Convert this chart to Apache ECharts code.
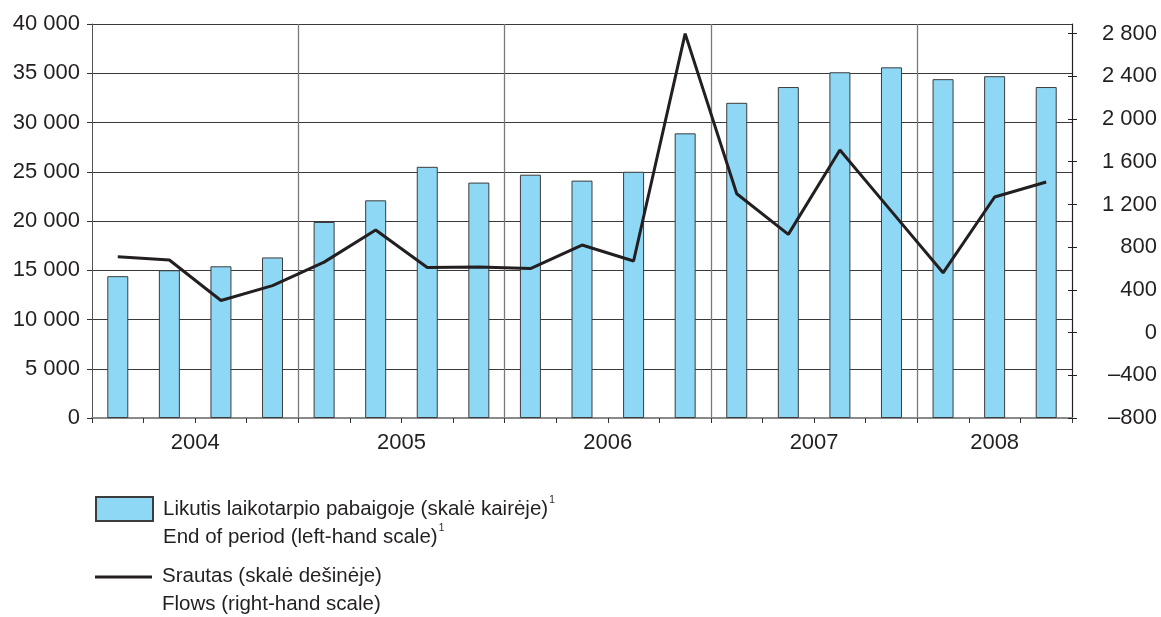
<!DOCTYPE html>
<html>
<head>
<meta charset="utf-8">
<script src="https://cdn.jsdelivr.net/npm/echarts@6/dist/echarts.min.js"></script>
<style>
  html, body { margin: 0; padding: 0; background: #ffffff; }
  #chart { width: 1161px; height: 617px; }
</style>
</head>
<body>
<div id="chart"></div>
<script>
// ketvirčiai 2004 Q1 - 2008 Q3
const years = ['2004', '2005', '2006', '2007', '2008'];
const quartersPerYear = [4, 4, 4, 4, 3];
const quarters = [
  '2004 Q1', '2004 Q2', '2004 Q3', '2004 Q4',
  '2005 Q1', '2005 Q2', '2005 Q3', '2005 Q4',
  '2006 Q1', '2006 Q2', '2006 Q3', '2006 Q4',
  '2007 Q1', '2007 Q2', '2007 Q3', '2007 Q4',
  '2008 Q1', '2008 Q2', '2008 Q3'
];
// likutis laikotarpio pabaigoje (kairė skalė)
const endOfPeriod = [
  14400, 15000, 15400, 16300,
  19900, 22100, 25500, 23900,
  24700, 24100, 25000, 28900,
  32000, 33600, 35100, 35600,
  34400, 34700, 33600
];
// srautas (dešinė skalė)
const flows = [
  710, 680, 300, 440,
  660, 960, 610, 615,
  600, 820, 670, 2800,
  1300, 920, 1710, 1135,
  560, 1270, 1410
];
const leftTicks = [0, 5000, 10000, 15000, 20000, 25000, 30000, 35000, 40000];
const rightTicks = [-800, -400, 0, 400, 800, 1200, 1600, 2000, 2400, 2800];

const barName = 'Likutis laikotarpio pabaigoje (skalė kairėje)';
const lineName = 'Srautas (skalė dešinėje)';
const legendText = {};
legendText[barName] = '{t|Likutis laikotarpio pabaigoje (skalė kairėje)}{s|1}\n{t|End of period (left-hand scale)}{s|1}';
legendText[lineName] = '{t|Srautas (skalė dešinėje)}\n{t|Flows (right-hand scale)}';

// metų ribos ir centrai
const yearBounds = [];
const yearCenters = [];
let acc = 0;
quartersPerYear.forEach((n, i) => {
  yearCenters.push(acc + n / 2);
  acc += n;
  if (i < quartersPerYear.length - 1) yearBounds.push(acc);
});

const FONT = '"Liberation Sans", Arial, sans-serif';
const TXT = '#231f20';

const fmt = v => {
  const s = Math.abs(v).toString().replace(/\B(?=(\d{3})+(?!\d))/g, ' ');
  return (v < 0 ? '–' : '') + s;
};

const legendRich = {
  t: { fontFamily: FONT, fontSize: 20.5, color: TXT, lineHeight: 28 },
  s: { fontFamily: FONT, fontSize: 10, color: TXT, verticalAlign: 'top', lineHeight: 28, padding: [0, 0, 12, 1] }
};

const myChart = echarts.init(document.getElementById('chart'));
const option = {
  animation: false,
  textStyle: { fontFamily: FONT, color: TXT },
  grid: { left: 92, right: 89, top: 24, bottom: 199, containLabel: false },
  legend: [
    {
      data: [{ name: barName, icon: 'rect' }],
      left: 95, top: 495, padding: 0,
      itemWidth: 57, itemHeight: 24,
      formatter: name => legendText[name],
      textStyle: { padding: [28, 0, 0, 5], rich: legendRich }
    },
    {
      data: [{ name: lineName, icon: 'rect' }],
      left: 95, top: 566, padding: 0,
      itemWidth: 57, itemHeight: 3,
      formatter: name => legendText[name],
      textStyle: { padding: [27, 0, 0, 5], rich: legendRich }
    }
  ],
  xAxis: [
    {
      type: 'category',
      data: quarters,
      boundaryGap: true,
      axisLine: { lineStyle: { color: '#8a8a8a', width: 2 } },
      axisTick: { show: true, interval: 0, length: 5, lineStyle: { color: '#333333' } },
      axisLabel: { show: false },
      splitLine: { show: false }
    },
    {
      type: 'value',
      min: 0,
      max: quarters.length,
      position: 'bottom',
      axisLine: { show: false },
      axisTick: { show: false, customValues: yearBounds },
      axisLabel: {
        customValues: yearCenters,
        formatter: v => years[yearCenters.indexOf(v)],
        fontSize: 22, color: TXT, margin: 14
      },
      splitLine: { show: true, lineStyle: { color: '#7a7a7a', width: 1.3 } }
    }
  ],
  yAxis: [
    {
      type: 'value',
      min: 0,
      max: 40000,
      interval: 5000,
      position: 'left',
      axisLine: { show: true, lineStyle: { color: '#555555', width: 1 } },
      axisTick: { show: true, length: 5, lineStyle: { color: '#333333' }, customValues: leftTicks },
      axisLabel: { customValues: leftTicks, formatter: fmt, fontSize: 22, color: TXT, margin: 12 },
      splitLine: { show: true, lineStyle: { color: '#3a3a3a', width: 1.2 } }
    },
    {
      type: 'value',
      min: -800,
      max: 2890,
      position: 'right',
      axisLine: { show: true, lineStyle: { color: '#231f20', width: 1.2 } },
      axisTick: { show: true, length: 5, lineStyle: { color: '#231f20' }, customValues: rightTicks },
      axisLabel: { customValues: rightTicks, formatter: fmt, fontSize: 22, color: TXT, margin: 85, align: 'right' },
      splitLine: { show: false }
    },
    {
      type: 'value',
      min: -800,
      max: 2890,
      position: 'right',
      axisLine: { show: false },
      axisTick: { show: true, inside: true, length: 4, lineStyle: { color: '#231f20' }, customValues: rightTicks },
      axisLabel: { show: false },
      splitLine: { show: false }
    }
  ],
  series: [
    {
      name: barName,
      type: 'bar',
      xAxisIndex: 0,
      yAxisIndex: 0,
      data: endOfPeriod,
      barWidth: 21,
      itemStyle: { color: '#8ed8f6', borderColor: '#3c3c3c', borderWidth: 1 }
    },
    {
      name: lineName,
      type: 'line',
      xAxisIndex: 0,
      yAxisIndex: 1,
      data: flows,
      symbol: 'none',
      lineStyle: { color: '#231f20', width: 3 },
      itemStyle: { color: '#231f20' },
      z: 5
    }
  ]
};
myChart.setOption(option);
</script>
</body>
</html>
